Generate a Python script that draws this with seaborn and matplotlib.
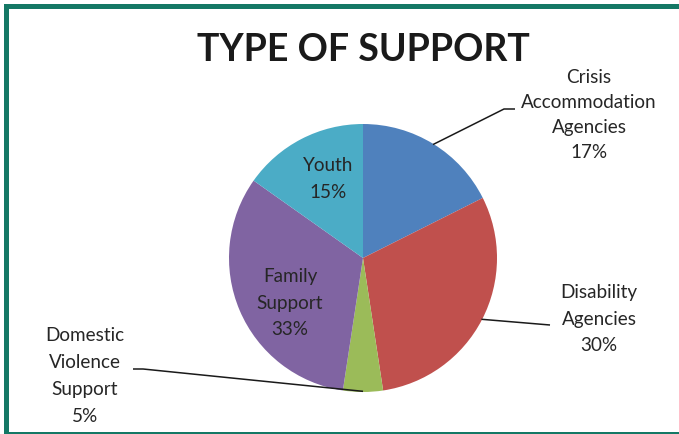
import numpy as np
import matplotlib
matplotlib.use("Agg")
import matplotlib.pyplot as plt
from matplotlib.patches import Rectangle
import seaborn as sns

# ---- data ----
categories = ["Crisis\nAccommodation\nAgencies", "Disability\nAgencies",
              "Domestic\nViolence\nSupport", "Family\nSupport", "Youth"]
values = [17.6, 30.0, 4.8, 32.4, 15.2]
pct_labels = ["17%", "30%", "5%", "33%", "15%"]
colors = ["#4F81BD", "#C0504D", "#9BBB59", "#8064A2", "#4BACC6"]
title = "TYPE OF SUPPORT"

sns.set_theme(style="white")
plt.rcParams["font.family"] = ["Lato", "DejaVu Sans"]

W, H, DPI = 679, 434, 100
fig = plt.figure(figsize=(W / DPI, H / DPI), dpi=DPI)
fig.patch.set_facecolor("white")
ax = fig.add_axes([0, 0, 1, 1])

# pie geometry in pixels
cx, cy, R = 363.0, 258.0, 134.0

wedges, _ = ax.pie(values, colors=colors, startangle=90, counterclock=False,
                   radius=1.0, wedgeprops=dict(linewidth=0))

ax.set_xlim((0 - cx) / R, (W - cx) / R)
ax.set_ylim((cy - H) / R, cy / R)
ax.set_aspect("auto")
ax.axis("off")

def px(x, y):
    return (x - cx) / R, (cy - y) / R

txt_col = "#262626"
fs = 13.6

label_text = [c + "\n" + p for c, p in zip(categories, pct_labels)]

# inside labels (Youth, Family Support)
inside = {4: (328, 179), 3: (290, 303)}
for i, (x, y) in inside.items():
    ax.text(*px(x, y), label_text[i], ha="center", va="center", fontsize=fs,
            color=txt_col, linespacing=1.7)

# outside labels with leader lines
outside = {
    0: dict(text=(589, 115), elbow=(504, 109), end=(515, 109), ls=1.55),
    1: dict(text=(599, 319), elbow=(550, 325), end=(550, 325), ls=1.7),
    2: dict(text=(85, 376), elbow=(143, 369), end=(133, 369), ls=1.7),
}
for i, o in outside.items():
    w = wedges[i]
    mid = np.deg2rad((w.theta1 + w.theta2) / 2)
    sx, sy = np.cos(mid) * 0.995, np.sin(mid) * 0.995
    ex, ey = px(*o["elbow"])
    fx, fy = px(*o["end"])
    ax.plot([sx, ex, fx], [sy, ey, fy], color="#1a1a1a", lw=1.1,
            solid_capstyle="butt")
    ax.text(*px(*o["text"]), label_text[i], ha="center", va="center",
            fontsize=fs, color=txt_col, linespacing=o["ls"])

fig.text(363 / W, 1 - 50 / H, title, ha="center", va="center",
         fontsize=27, fontweight="bold", color="#1a1a1a")

# green frame
frame = Rectangle((5.5 / W, 1 - 433.5 / H), (700 - 5.5) / W, (433.5 - 5.5) / H,
                  transform=fig.transFigure, fill=False, edgecolor="#147865",
                  linewidth=5 * 72 / DPI, clip_on=False)
fig.patches.append(frame)

fig.savefig("out.png", dpi=DPI)
